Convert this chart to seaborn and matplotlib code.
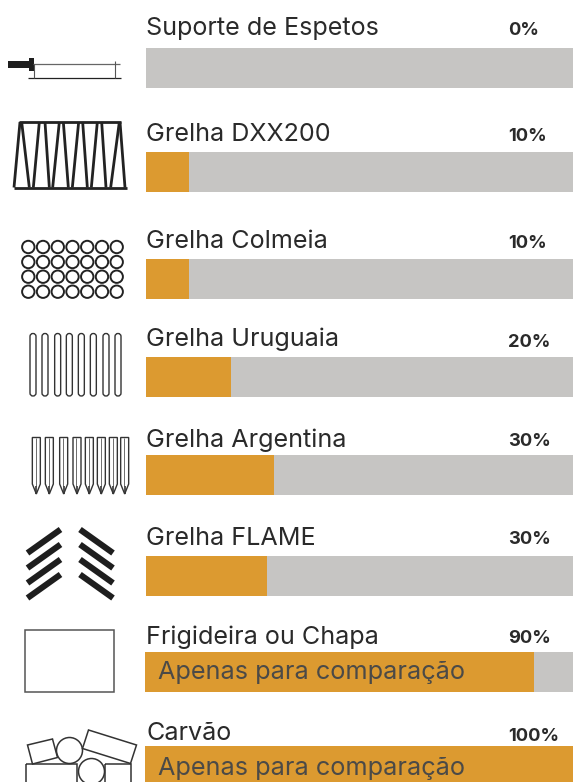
import numpy as np
import matplotlib
matplotlib.use('Agg')
import matplotlib.pyplot as plt
from matplotlib.patches import Circle, FancyBboxPatch, Polygon, Rectangle
import seaborn as sns

sns.set_theme(style='white')
plt.rcParams['font.family'] = ['Inter', 'DejaVu Sans']

W, H = 573, 782

names = ['Suporte de Espetos', 'Grelha DXX200', 'Grelha Colmeia', 'Grelha Uruguaia',
         'Grelha Argentina', 'Grelha FLAME', 'Frigideira ou Chapa', 'Carvão']
labels = ['0%', '10%', '10%', '20%', '30%', '30%', '90%', '100%']
# drawn lengths differ a little from the printed labels
fills = [0, 10, 10, 20, 30, 28.3, 91, 100]
notes = [None, None, None, None, None, None,
         'Apenas para comparação', 'Apenas para comparação']

# pixel layout per row: bar top, name baseline, percent baseline, bar left
bar_tops = [48, 152, 259, 357, 455, 556, 652, 746]
name_base = [35, 141, 248, 346, 447, 545, 644, 740]
pct_base = [35, 141, 248, 347, 446, 544, 643, 741]
bar_left = [146, 146, 146, 146, 146, 146, 145, 145]
bar_h = 40

GRAY = '#C6C5C3'
ORANGE = '#DC9A30'
INK = '#2A2A2A'
NOTE = '#4B4A47'

fig = plt.figure(figsize=(W / 100, H / 100), dpi=100, facecolor='white')

for i, name in enumerate(names):
    rect = [bar_left[i] / W, 1 - (bar_tops[i] + bar_h) / H, (W - bar_left[i]) / W, bar_h / H]
    ax = fig.add_axes(rect)
    sns.barplot(x=[100], y=[name], orient='h', color=GRAY, saturation=1, width=1, linewidth=0, ax=ax)
    sns.barplot(x=[fills[i]], y=[name], orient='h', color=ORANGE, saturation=1, width=1, linewidth=0, ax=ax)
    ax.set_xlim(0, 100)
    ax.set_ylim(0.5, -0.5)
    ax.axis('off')

# overlay in pixel coords for text and the icons
ov = fig.add_axes([0, 0, 1, 1], facecolor='none')
ov.set_xlim(0, W)
ov.set_ylim(H, 0)
ov.axis('off')

for i, name in enumerate(names):
    ov.text(146, name_base[i], name, fontsize=18.1, color=INK, va='baseline', ha='left')
    ov.text(508, pct_base[i], labels[i], fontsize=13.2, color=INK, weight='bold', va='baseline', ha='left')
    if notes[i]:
        ov.text(158.5, name_base[i] + 35, notes[i], fontsize=18.2, color=NOTE, va='baseline', ha='left')


def line(xs, ys, lw=1.0, color='#222222', cap='butt'):
    ov.plot(xs, ys, lw=lw, color=color, solid_capstyle=cap)


# spit support
ov.add_patch(Rectangle((8, 61), 22, 6.5, color='#1E1E1E', lw=0))
ov.add_patch(Rectangle((29, 57.5), 4.5, 13, color='#1E1E1E', lw=0))
line([33, 120], [64, 64], 0.9, '#666666')
line([28, 121], [77.5, 77.5], 0.9)
line([33.5, 33.5], [64, 77.5], 0.8, '#555555')
line([114.5, 114.5], [61, 77.5], 0.8, '#555555')

# DXX200 zigzag
line([19, 121], [122, 122], 2.0)
line([13.5, 126.5], [187.5, 187.5], 2.0)
tops = [60, 65, 118, 135, 178, 190, 236, 248, 292, 305, 358, 360]
bots = [42, 88, 100, 148, 158, 205, 217, 262, 274, 318, 332, 375]
for t, b in zip(tops, bots):
    line([t / 3, b / 3], [122, 187.5], 2.0)

# honeycomb circles
for cy in [247, 262, 276.7, 291.7]:
    for cx in np.linspace(28.3, 116.7, 7):
        ov.add_patch(Circle((cx, cy), 6.2, fill=False, ec='#222222', lw=1.4))

# uruguaian rods
for zx in [99, 135, 173, 208, 244, 280, 318, 354]:
    ov.add_patch(FancyBboxPatch((zx / 3 - 3, 333.5), 6, 62.5, boxstyle='round,pad=0,rounding_size=3',
                                fill=False, ec='#333333', lw=1.0))

# argentine spikes
for zx in [109, 148, 191, 231, 268, 304, 340, 374]:
    x = zx / 3
    ov.add_patch(Polygon([(x - 4, 437.5), (x + 4, 437.5), (x + 4, 484), (x, 494), (x - 4, 484)],
                         closed=True, fill=False, ec='#333333', lw=1.0))
    line([x - 0.8, x - 0.8], [437.5, 486], 0.6, '#555555')
    line([x, x], [486, 494], 1.2, '#333333')

# flame chevrons
for k in range(4):
    dy = 15 * k
    line([27.5, 60.5], [553 + dy, 529.5 + dy], 4.4, '#1E1E1E')
    line([80, 113], [529.5 + dy, 553 + dy], 4.4, '#1E1E1E')

# griddle plate
ov.add_patch(Rectangle((24.5, 630), 89.5, 61.5, fill=False, ec='#555555', lw=1.1))

# charcoal pieces, runs off the bottom of the figure
ck = dict(fill=False, ec='#333333', lw=1.1)
ov.add_patch(Polygon([(27.5, 745), (52.5, 739), (57.5, 757.5), (32.5, 764)], closed=True, **ck))
ov.add_patch(Circle((69.5, 750.5), 13, **ck))
ov.add_patch(Polygon([(88.5, 730), (136.5, 745), (130.5, 763.5), (82.5, 748.5)], closed=True, **ck))
ov.add_patch(Rectangle((26, 764), 50.5, 30, **ck))
ov.add_patch(Circle((91.5, 771.5), 13, **ck))
ov.add_patch(Rectangle((105, 763.5), 25.5, 30, **ck))

fig.savefig('out.png', dpi=100)
